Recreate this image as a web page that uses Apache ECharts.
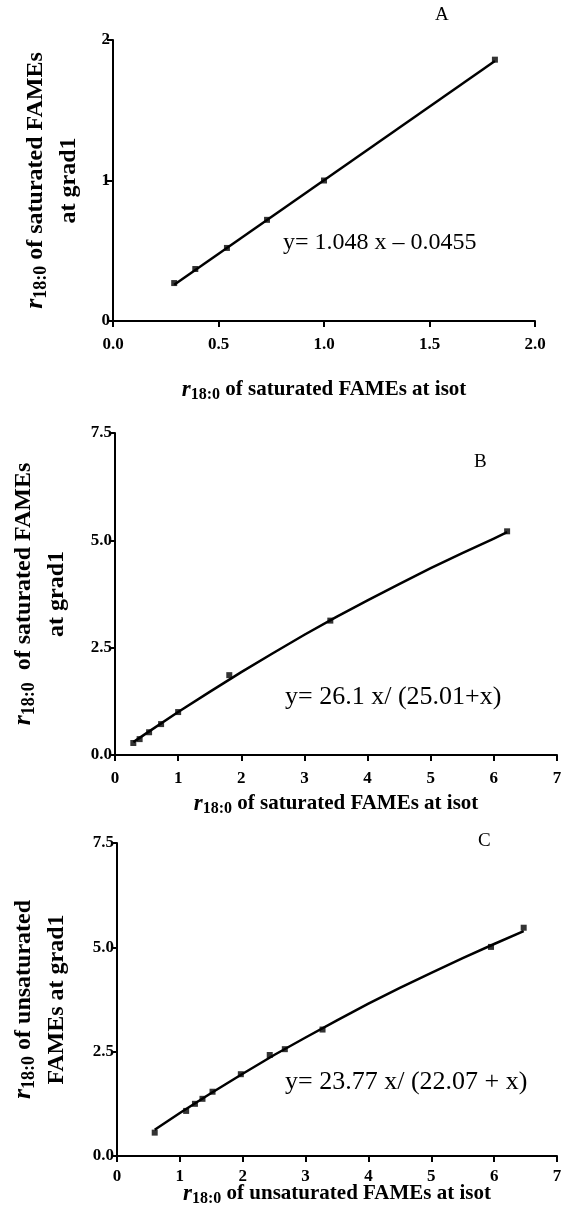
<!DOCTYPE html>
<html><head><meta charset="utf-8">
<script src="https://cdn.jsdelivr.net/npm/echarts@6/dist/echarts.min.js"></script>
<style>html,body{margin:0;padding:0;background:#fff}#c{width:563px;height:1205px}</style>
</head><body><div id="c"></div>
<script>
// Panel A data
const aX = [0.29, 0.39, 0.54, 0.73, 1.00, 1.81];
const aY = [0.27, 0.37, 0.52, 0.72, 1.00, 1.86];
const aFitX = [0.29, 1.81];
const aFitY = [0.258, 1.851];
// Panel B data
const bX = [0.29, 0.39, 0.54, 0.73, 1.00, 1.81, 3.41, 6.21];
const bY = [0.28, 0.37, 0.53, 0.72, 1.00, 1.86, 3.13, 5.21];
const bFitX = [0.29, 0.5, 1, 1.5, 2, 2.5, 3, 3.5, 4, 4.5, 5, 5.5, 6, 6.21];
const bFitY = [0.30, 0.51, 1.00, 1.47, 1.93, 2.37, 2.80, 3.21, 3.60, 3.98, 4.35, 4.70, 5.04, 5.19];
// Panel C data
const cX = [0.60, 1.10, 1.24, 1.36, 1.52, 1.97, 2.43, 2.67, 3.27, 5.95, 6.47];
const cY = [0.56, 1.08, 1.25, 1.37, 1.54, 1.96, 2.42, 2.56, 3.03, 5.01, 5.47];
const cFitX = [0.6, 1, 1.5, 2, 2.5, 3, 3.5, 4, 4.5, 5, 5.5, 6, 6.47];
const cFitY = [0.63, 1.03, 1.51, 1.97, 2.42, 2.84, 3.25, 3.65, 4.03, 4.39, 4.74, 5.08, 5.39];
// Ticks
const aXTicks = {min: 0, max: 2, interval: 0.5};
const aYTicks = {min: 0, max: 2, interval: 1};
const bcXTicks = {min: 0, max: 7, interval: 1};
const bcYTicks = {min: 0, max: 7.5, interval: 2.5};

const zip = (xs, ys) => xs.map((x, i) => [x, ys[i]]);
const SERIF = '"Liberation Serif","DejaVu Serif",serif';
const richX = {
  r: {fontFamily: SERIF, fontStyle: 'italic', fontWeight: 'bold', fontSize: 23, color: '#000'},
  s: {fontFamily: SERIF, fontWeight: 'bold', fontSize: 16, color: '#000', padding: [10, 0, 0, 0]},
  t: {fontFamily: SERIF, fontWeight: 'bold', fontSize: 21, color: '#000'}
};
const richY = {
  r: {fontFamily: SERIF, fontStyle: 'italic', fontWeight: 'bold', fontSize: 26, color: '#000', lineHeight: 33},
  s: {fontFamily: SERIF, fontWeight: 'bold', fontSize: 18, color: '#000', padding: [11, 0, 0, 0], lineHeight: 33},
  t: {fontFamily: SERIF, fontWeight: 'bold', fontSize: 24, color: '#000', lineHeight: 33}
};
function xAxis(idx, t, dec, name, gap, margin) {
  return {
    type: 'value', gridIndex: idx, min: t.min, max: t.max, interval: t.interval,
    name: name, nameLocation: 'middle', nameGap: gap, nameMoveOverlap: false,
    nameTextStyle: {rich: richX},
    axisLine: {show: true, onZero: false, lineStyle: {color: '#000', width: 2}},
    axisTick: {show: true, length: 6, lineStyle: {color: '#000', width: 2}},
    axisLabel: {color: '#000', fontFamily: SERIF, fontWeight: 'bold', fontSize: 17, margin: margin,
      formatter: v => v.toFixed(dec)},
    splitLine: {show: false}
  };
}
function yAxis(idx, t, dec, name, gap) {
  return {
    type: 'value', gridIndex: idx, min: t.min, max: t.max, interval: t.interval,
    name: name, nameLocation: 'middle', nameGap: gap, nameRotate: 90, nameMoveOverlap: false,
    nameTextStyle: {rich: richY, lineHeight: 33},
    axisLine: {show: true, onZero: false, lineStyle: {color: '#000', width: 2}},
    axisTick: {show: true, length: 6, lineStyle: {color: '#000', width: 2}},
    axisLabel: {color: '#000', fontFamily: SERIF, fontWeight: 'bold', fontSize: 17, margin: 3,
      formatter: v => v.toFixed(dec)},
    splitLine: {show: false}
  };
}
function pts(idx, d) {
  return {type: 'scatter', xAxisIndex: idx, yAxisIndex: idx, data: d, symbol: 'rect', symbolSize: 6,
    itemStyle: {color: '#000'}, z: 3};
}
function fit(idx, d) {
  return {type: 'line', xAxisIndex: idx, yAxisIndex: idx, data: d, showSymbol: false, smooth: false,
    lineStyle: {color: '#000', width: 2.5, join: 'round'}, z: 2};
}
const txt = (x, y, s, size) => ({type: 'text', left: x, top: y,
  style: {text: s, fontFamily: SERIF, fontSize: size, fill: '#000'}});

const gridBase = {containLabel: false, outerBoundsMode: 'none'};
const chart = echarts.init(document.getElementById('c'));
chart.setOption({
  backgroundColor: '#fff',
  animation: false,
  grid: [
    Object.assign({left: 113, top: 40, width: 422, height: 281}, gridBase),
    Object.assign({left: 115, top: 433, width: 442, height: 322}, gridBase),
    Object.assign({left: 117, top: 843, width: 440, height: 313}, gridBase)
  ],
  xAxis: [
    xAxis(0, aXTicks, 1, '{r|r}{s|18:0}{t| of saturated FAMEs at isot}', 56, 15),
    xAxis(1, bcXTicks, 0, '{r|r}{s|18:0}{t| of saturated FAMEs at isot}', 36, 15),
    xAxis(2, bcXTicks, 0, '{r|r}{s|18:0}{t| of unsaturated FAMEs at isot}', 25, 12)
  ],
  yAxis: [
    yAxis(0, aYTicks, 0, '{r|r}{s|18:0}{t| of saturated FAMEs}\n{t|at grad1}', 28),
    yAxis(1, bcYTicks, 1, '{r|r}{s|18:0}{t|  of saturated FAMEs}\n{t|at grad1}', 42),
    yAxis(2, bcYTicks, 1, '{r|r}{s|18:0}{t| of unsaturated}\n{t|FAMEs at grad1}', 44)
  ],
  series: [
    fit(0, zip(aFitX, aFitY)), pts(0, zip(aX, aY)),
    fit(1, zip(bFitX, bFitY)), pts(1, zip(bX, bY)),
    fit(2, zip(cFitX, cFitY)), pts(2, zip(cX, cY))
  ],
  graphic: [
    txt(435, 6, 'A', 19),
    txt(474, 453, 'B', 19),
    txt(478, 832, 'C', 19),
    txt(283, 231, 'y= 1.048 x \u2013 0.0455', 24),
    txt(285, 684, 'y= 26.1 x/ (25.01+x)', 26),
    txt(285, 1069, 'y= 23.77 x/ (22.07 + x)', 26)
  ]
});
</script></body></html>
